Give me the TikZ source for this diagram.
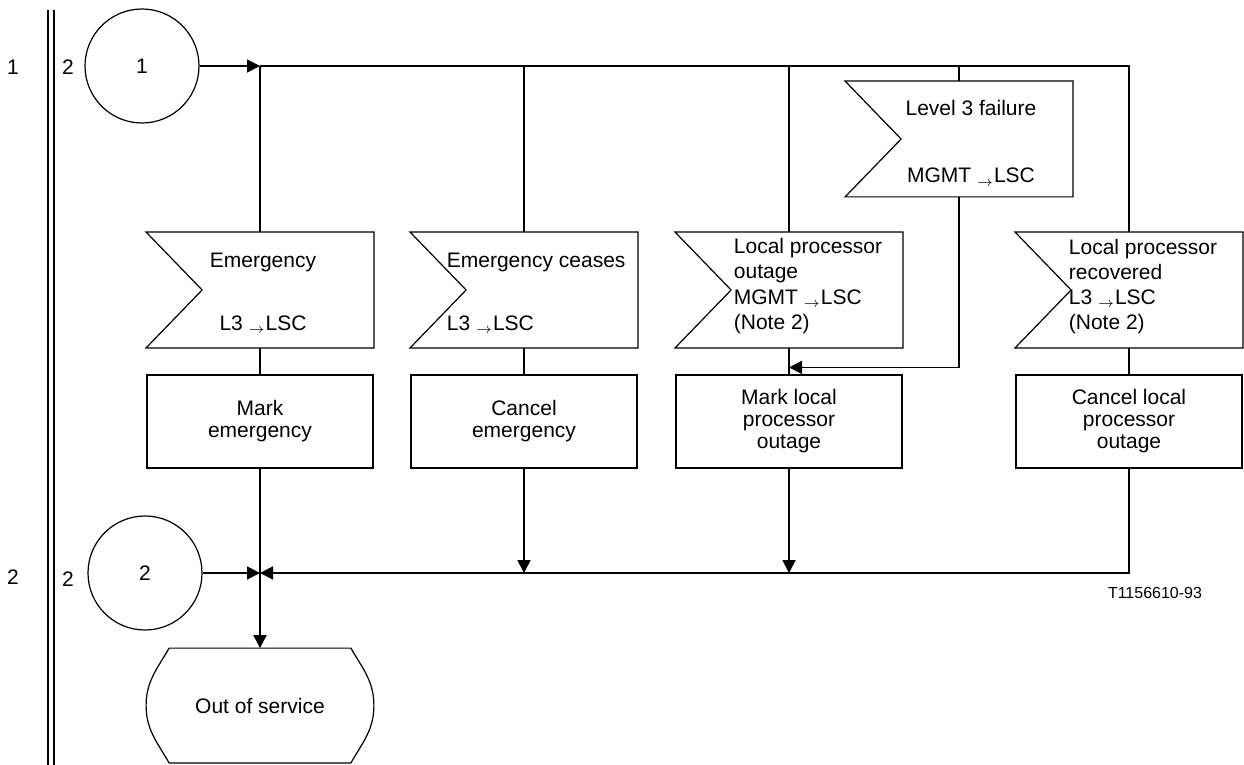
\documentclass[tikz,border=0pt]{standalone}
\usepackage{fontspec}
\setmainfont{Liberation Sans}
\usetikzlibrary{arrows.meta,positioning,calc}

% outline of an input signal (notch on the left)
\newcommand{\signalshape}[1]{\draw[line width=0.6pt] (#1.north west) -- (#1.north east) -- (#1.south east) -- (#1.south west) -- ([xshift=28pt]#1.west) -- cycle;}
% outline of a state
\newcommand{\stateshape}[1]{\draw[line width=0.6pt] ([xshift=11.5pt]#1.north west) -- ([xshift=-11.5pt]#1.north east) to[out=-60,in=90] (#1.east) to[out=-90,in=60] ([xshift=-11.5pt]#1.south east) -- ([xshift=11.5pt]#1.south west) to[out=120,in=-90] (#1.west) to[out=90,in=-120] ([xshift=11.5pt]#1.north west);}
\newcommand{\sigto}{\ensuremath{{}_{\rightarrow}}}

\begin{document}
\begin{tikzpicture}[x=0.5pt, y=-0.5pt, >={Triangle[length=6.5pt,width=6.5pt]}, line width=0.9pt, font=\fontsize{10.5pt}{12.6pt}\selectfont]
 % Define block styles
	\tikzstyle{signal} = [rectangle, minimum width=113pt, minimum height=57pt, inner sep=0pt]
	\tikzstyle{sigtext} = [inner sep=0pt, align=left]
	\tikzstyle{task} = [rectangle, draw, line width=0.6pt, minimum width=113pt, minimum height=46.5pt, align=center, font=\fontsize{10.5pt}{11pt}\selectfont, node distance=65.75pt]
	\tikzstyle{connector} = [circle, draw, line width=0.6pt, minimum size=57pt, inner sep=0pt]
	\tikzstyle{state} = [rectangle, minimum width=113pt, minimum height=56.5pt, inner sep=0pt]
	\useasboundingbox (0,0) rectangle (1244,765);
%%====Lanes=======================================================================================
	\draw (48,10) -- (48,765);
	\draw (54,10) -- (54,765);
	\node (lane1) at (13,67) {1};
	\node (lane2) at (13,577) {2};
	\node (page1) at (68,67) {2};
	\node (page2) at (68,579) {2};
%%====Nodes=======================================================================================
	\node	[connector]	(c1)	at (142,66)		{1};
	\node	[connector]	(c2)	at (145,573)	{2};
	\node	[signal]	(emerg)		at (260,290)	{};
	\node	[signal]	(ceases)	at (524,290)	{};
	\node	[signal]	(outage)	at (789,290)	{};
	\node	[signal]	(l3fail)	at (959,139)	{};
	\node	[signal]	(recov)		at (1129,290)	{};
	\signalshape{emerg}
	\signalshape{ceases}
	\signalshape{outage}
	\signalshape{l3fail}
	\signalshape{recov}
	\node	[sigtext, align=center]	(emergtext)		at (263,293.5)	{Emergency\\[18.9pt]L3 \sigto LSC};
	\node	[sigtext, anchor=west]	(ceasestext)	at (446,293.5)	{Emergency ceases\\[18.9pt]L3 \sigto LSC};
	\node	[sigtext, anchor=west]	(outagetext)	at (733,286)	{Local processor\\outage\\MGMT \sigto LSC\\(Note 2)};
	\node	[sigtext, align=center]	(l3failtext)	at (971,143.5)	{Level 3 failure\\[20.9pt]MGMT \sigto LSC};
	\node	[sigtext, anchor=west]	(recovtext)		at (1068,286.5)	{Local processor\\recovered\\L3 \sigto LSC\\(Note 2)};
	\node	[task]	(markemerg)		[below of=emerg]	{Mark\\emergency};
	\node	[task]	(cancelemerg)	[below of=ceases]	{Cancel\\emergency};
	\node	[task]	(markout)		[below of=outage]	{Mark local\\processor\\outage};
	\node	[task]	(cancelout)		[below of=recov]	{Cancel local\\processor\\outage};
	\node	[state]	(oos)	at (260,705.5)	{Out of service};
	\stateshape{oos}
	\node	[font=\fontsize{8pt}{9.6pt}\selectfont]	(tag)	at (1155,593)	{T1156610-93};
%%====Connectors==================================================================================
	\draw [->] (c1) -- (c1.east -| emerg.north);
	\draw (c1.east -| emerg.north) -| (recov.north);
	\draw (c1.east -| emerg.north) -- (emerg.north);
	\draw (c1.east -| ceases.north) -- (ceases.north);
	\draw (c1.east -| outage.north) -- (outage.north);
	\draw (c1.east -| l3fail.north) -- (l3fail.north);
	\draw [->] (l3fail.south) |- ([yshift=3.5pt]markout.north);
	\draw (emerg) -- (markemerg);
	\draw (ceases) -- (cancelemerg);
	\draw (outage) -- (markout);
	\draw (recov) -- (cancelout);
	\draw [->] (markemerg) -- (oos);
	\draw [->] (c2) -- (c2 -| markemerg.south);
	\draw [->] (cancelemerg.south) -- (cancelemerg.south |- c2);
	\draw [->] (markout.south) -- (markout.south |- c2);
	\draw [->] (cancelout.south) |- (c2 -| markemerg.south);
\end{tikzpicture}
\end{document}
